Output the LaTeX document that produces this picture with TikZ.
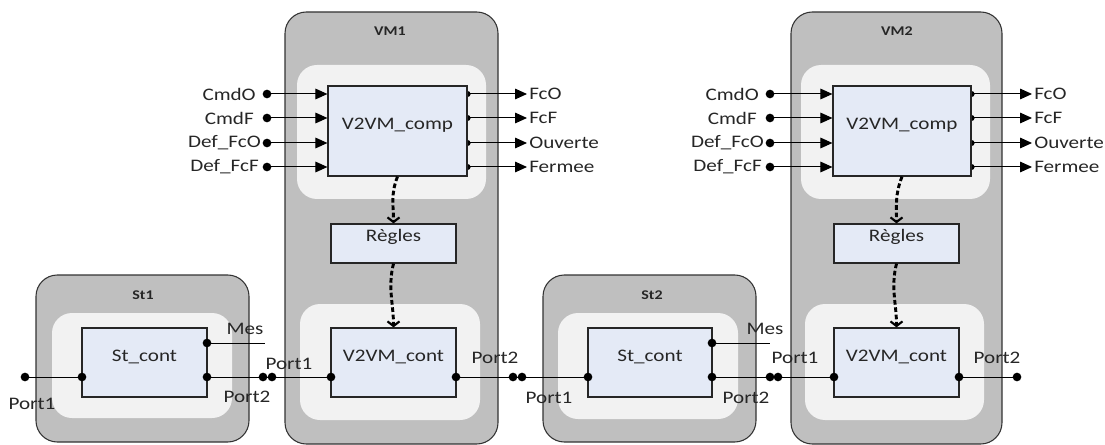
\documentclass[tikz,border=0pt]{standalone}
\usepackage{fontspec}
\setmainfont{Carlito}[FakeStretch=1.2]
\usetikzlibrary{arrows.meta,fit}
\definecolor{outerfill}{HTML}{BFBFBF}
\definecolor{innerfill}{HTML}{F2F2F2}
\definecolor{boxfill}{HTML}{E4EAF6}
\definecolor{txt}{HTML}{262626}
\newcommand{\lblfont}{\fontsize{13.2}{16}\selectfont}
\newcommand{\ttlfont}{\bfseries\fontsize{10}{12}\selectfont}
\pgfdeclarelayer{bg}
\pgfdeclarelayer{mid}
\pgfsetlayers{bg,mid,main}
\begin{document}
\begin{tikzpicture}[x=0.75pt,y=-0.75pt,
 vmbox/.style={draw=black!80, fill=outerfill, rounded corners=16pt, line width=0.8pt, inner sep=0pt},
 lightbox/.style={fill=innerfill, rounded corners=15pt, inner sep=0pt},
 blk/.style={draw=black!85, fill=boxfill, line width=0.9pt, inner sep=0pt, font=\lblfont, text=txt},
 lbl/.style={font=\lblfont, text=txt, inner sep=0pt},
 ttl/.style={font=\ttlfont, text=txt, inner sep=0pt},
 dot/.style={circle, fill=black, inner sep=0pt, minimum size=6.5pt},
 sdot/.style={circle, fill=black, inner sep=0pt, minimum size=4.5pt},
 wire/.style={line width=0.75pt},
 sig/.style={line width=0.75pt, -{Triangle[length=9pt,width=8pt]}},
 dep/.style={line width=2.2pt, dash pattern=on 3.5pt off 2pt, -{Straight Barb[length=3.5pt,width=9pt,line width=1.6pt]}}
]
\useasboundingbox (0,0) rectangle (1105,445);

% ---------- containers ----------
\begin{pgfonlayer}{bg}
\node[vmbox, fit={(36,275)(249,442)}] (st1o) {};
\node[vmbox, fit={(543,275)(756,442)}] (st2o) {};
\node[vmbox, fit={(285,12)(498,444)}] (vm1o) {};
\node[vmbox, fit={(791,12)(1002,444)}] (vm2o) {};
\node[lightbox, fit={(52,313)(232,418)}] (st1i) {};
\node[lightbox, fit={(558,313)(738,419)}] (st2i) {};
\node[lightbox, fit={(297,65)(486,199)}] (vm1u) {};
\node[lightbox, fit={(300,304)(480,420)}] (vm1l) {};
\node[lightbox, fit={(801,65)(990,199)}] (vm2u) {};
\node[lightbox, fit={(805,304)(984,420)}] (vm2l) {};
\end{pgfonlayer}

% ---------- titles ----------
\node[ttl] (t1) at (143,295) {St1};
\node[ttl] (t2) at (652,295) {St2};
\node[ttl] (t3) at (390,31) {VM1};
\node[ttl] (t4) at (897,31) {VM2};

% ---------- blocks ----------
\node[blk, fit={(82,328)(207,397)}] (st1) {St\_cont};
\node[blk, fit={(588,328)(712,397)}] (st2) {St\_cont};
\node[blk, fit={(328,86)(467,176)}] (comp1) {V2VM\_comp};
\node[blk, fit={(833,86)(971,176)}] (comp2) {V2VM\_comp};
\node[blk, fit={(331,224)(456,263)}] (reg1) {Règles};
\node[blk, fit={(834,224)(959,263)}] (reg2) {Règles};
\node[blk, fit={(331,328)(456,397)}] (cont1) {V2VM\_cont};
\node[blk, fit={(834,328)(959,397)}] (cont2) {V2VM\_cont};

% ---------- port dots ----------
\node[dot] (s1ext) at (25,377) {};
\node[dot] (s1p1) at (82,377) {};
\node[dot] (s1mes) at (207,343) {};
\node[dot] (s1p2) at (207,377) {};
\node[dot] (s1p2o) at (263,377) {};
\node[dot] (v1p1o) at (272,377) {};
\node[dot] (v1p1) at (331,377) {};
\node[dot] (v1p2) at (456,377) {};
\node[dot] (v1p2o) at (513,377) {};
\node[dot] (s2p1o) at (522,377) {};
\node[dot] (s2p1) at (588,377) {};
\node[dot] (s2mes) at (712,343) {};
\node[dot] (s2p2) at (712,377) {};
\node[dot] (s2p2o) at (770,377) {};
\node[dot] (v2p1o) at (778,377) {};
\node[dot] (v2p1) at (834,377) {};
\node[dot] (v2p2) at (959,377) {};
\node[dot] (v2p2o) at (1017,377) {};
\coordinate (s1mesend) at (265,343);
\coordinate (s2mesend) at (770,343);

% ---------- port labels ----------
\node[lbl] (l1) at (32,404) {Port1};
\node[lbl] (l2) at (245,329) {Mes};
\node[lbl] (l3) at (247,397) {Port2};
\node[lbl] (l4) at (289,364) {Port1};
\node[lbl] (l5) at (495,358) {Port2};
\node[lbl] (l6) at (549,398) {Port1};
\node[lbl] (l7) at (765,329) {Mes};
\node[lbl] (l8) at (746,398) {Port2};
\node[lbl] (l9) at (795,358) {Port1};
\node[lbl] (l10) at (997,358) {Port2};

% ---------- inputs / outputs of the comp blocks ----------
\foreach \y/\lab/\out/\sh [count=\k] in {94/CmdO/FcO/11, 118/CmdF/FcF/13, 143/Def\_FcO/Ouverte/6, 167/Def\_FcF/Fermee/8}{
  \node[dot] (ia\k) at (267,\y) {};
  \node[lbl, anchor=east] (ial\k) at (267-\sh,\y) {\lab};
  \coordinate (oa\k) at (527,\y);
  \node[lbl, anchor=west] (oal\k) at (529,\y) {\out};
  \node[dot] (ib\k) at (770,\y) {};
  \node[lbl, anchor=east] (ibl\k) at (770-\sh,\y) {\lab};
  \coordinate (ob\k) at (1032,\y);
  \node[lbl, anchor=west] (obl\k) at (1034,\y) {\out};
  \begin{pgfonlayer}{mid}
    \draw[sig] (ia\k.center) -- (ia\k -| comp1.west);
    \node[sdot] (oad\k) at (oa\k -| comp1.east) {};
    \draw[sig] (oad\k.center) -- (oa\k);
    \draw[sig] (ib\k.center) -- (ib\k -| comp2.west);
    \node[sdot] (obd\k) at (ob\k -| comp2.east) {};
    \draw[sig] (obd\k.center) -- (ob\k);
  \end{pgfonlayer}
}

% ---------- wires ----------
\begin{pgfonlayer}{mid}
\draw[wire] (s1ext.center) -- (s1p1.center);
\draw[wire] (s1mes.center) -- (s1mesend);
\draw[wire] (s1p2.center) -- (v1p1.center);
\draw[wire] (v1p2.center) -- (s2p1.center);
\draw[wire] (s2mes.center) -- (s2mesend);
\draw[wire] (s2p2.center) -- (v2p1.center);
\draw[wire] (v2p2.center) -- (v2p2o.center);
\end{pgfonlayer}

% ---------- dependencies ----------
\draw[dep] (comp1.south) .. controls +(-7,18) and +(0,-18) .. (reg1.north);
\draw[dep] (reg1.south) .. controls +(-6,24) and +(0,-24) .. (cont1.north);
\draw[dep] (comp2.south) .. controls +(-7,18) and +(0,-18) .. (reg2.north);
\draw[dep] (reg2.south) .. controls +(-6,24) and +(0,-24) .. (cont2.north);
\end{tikzpicture}
\end{document}
